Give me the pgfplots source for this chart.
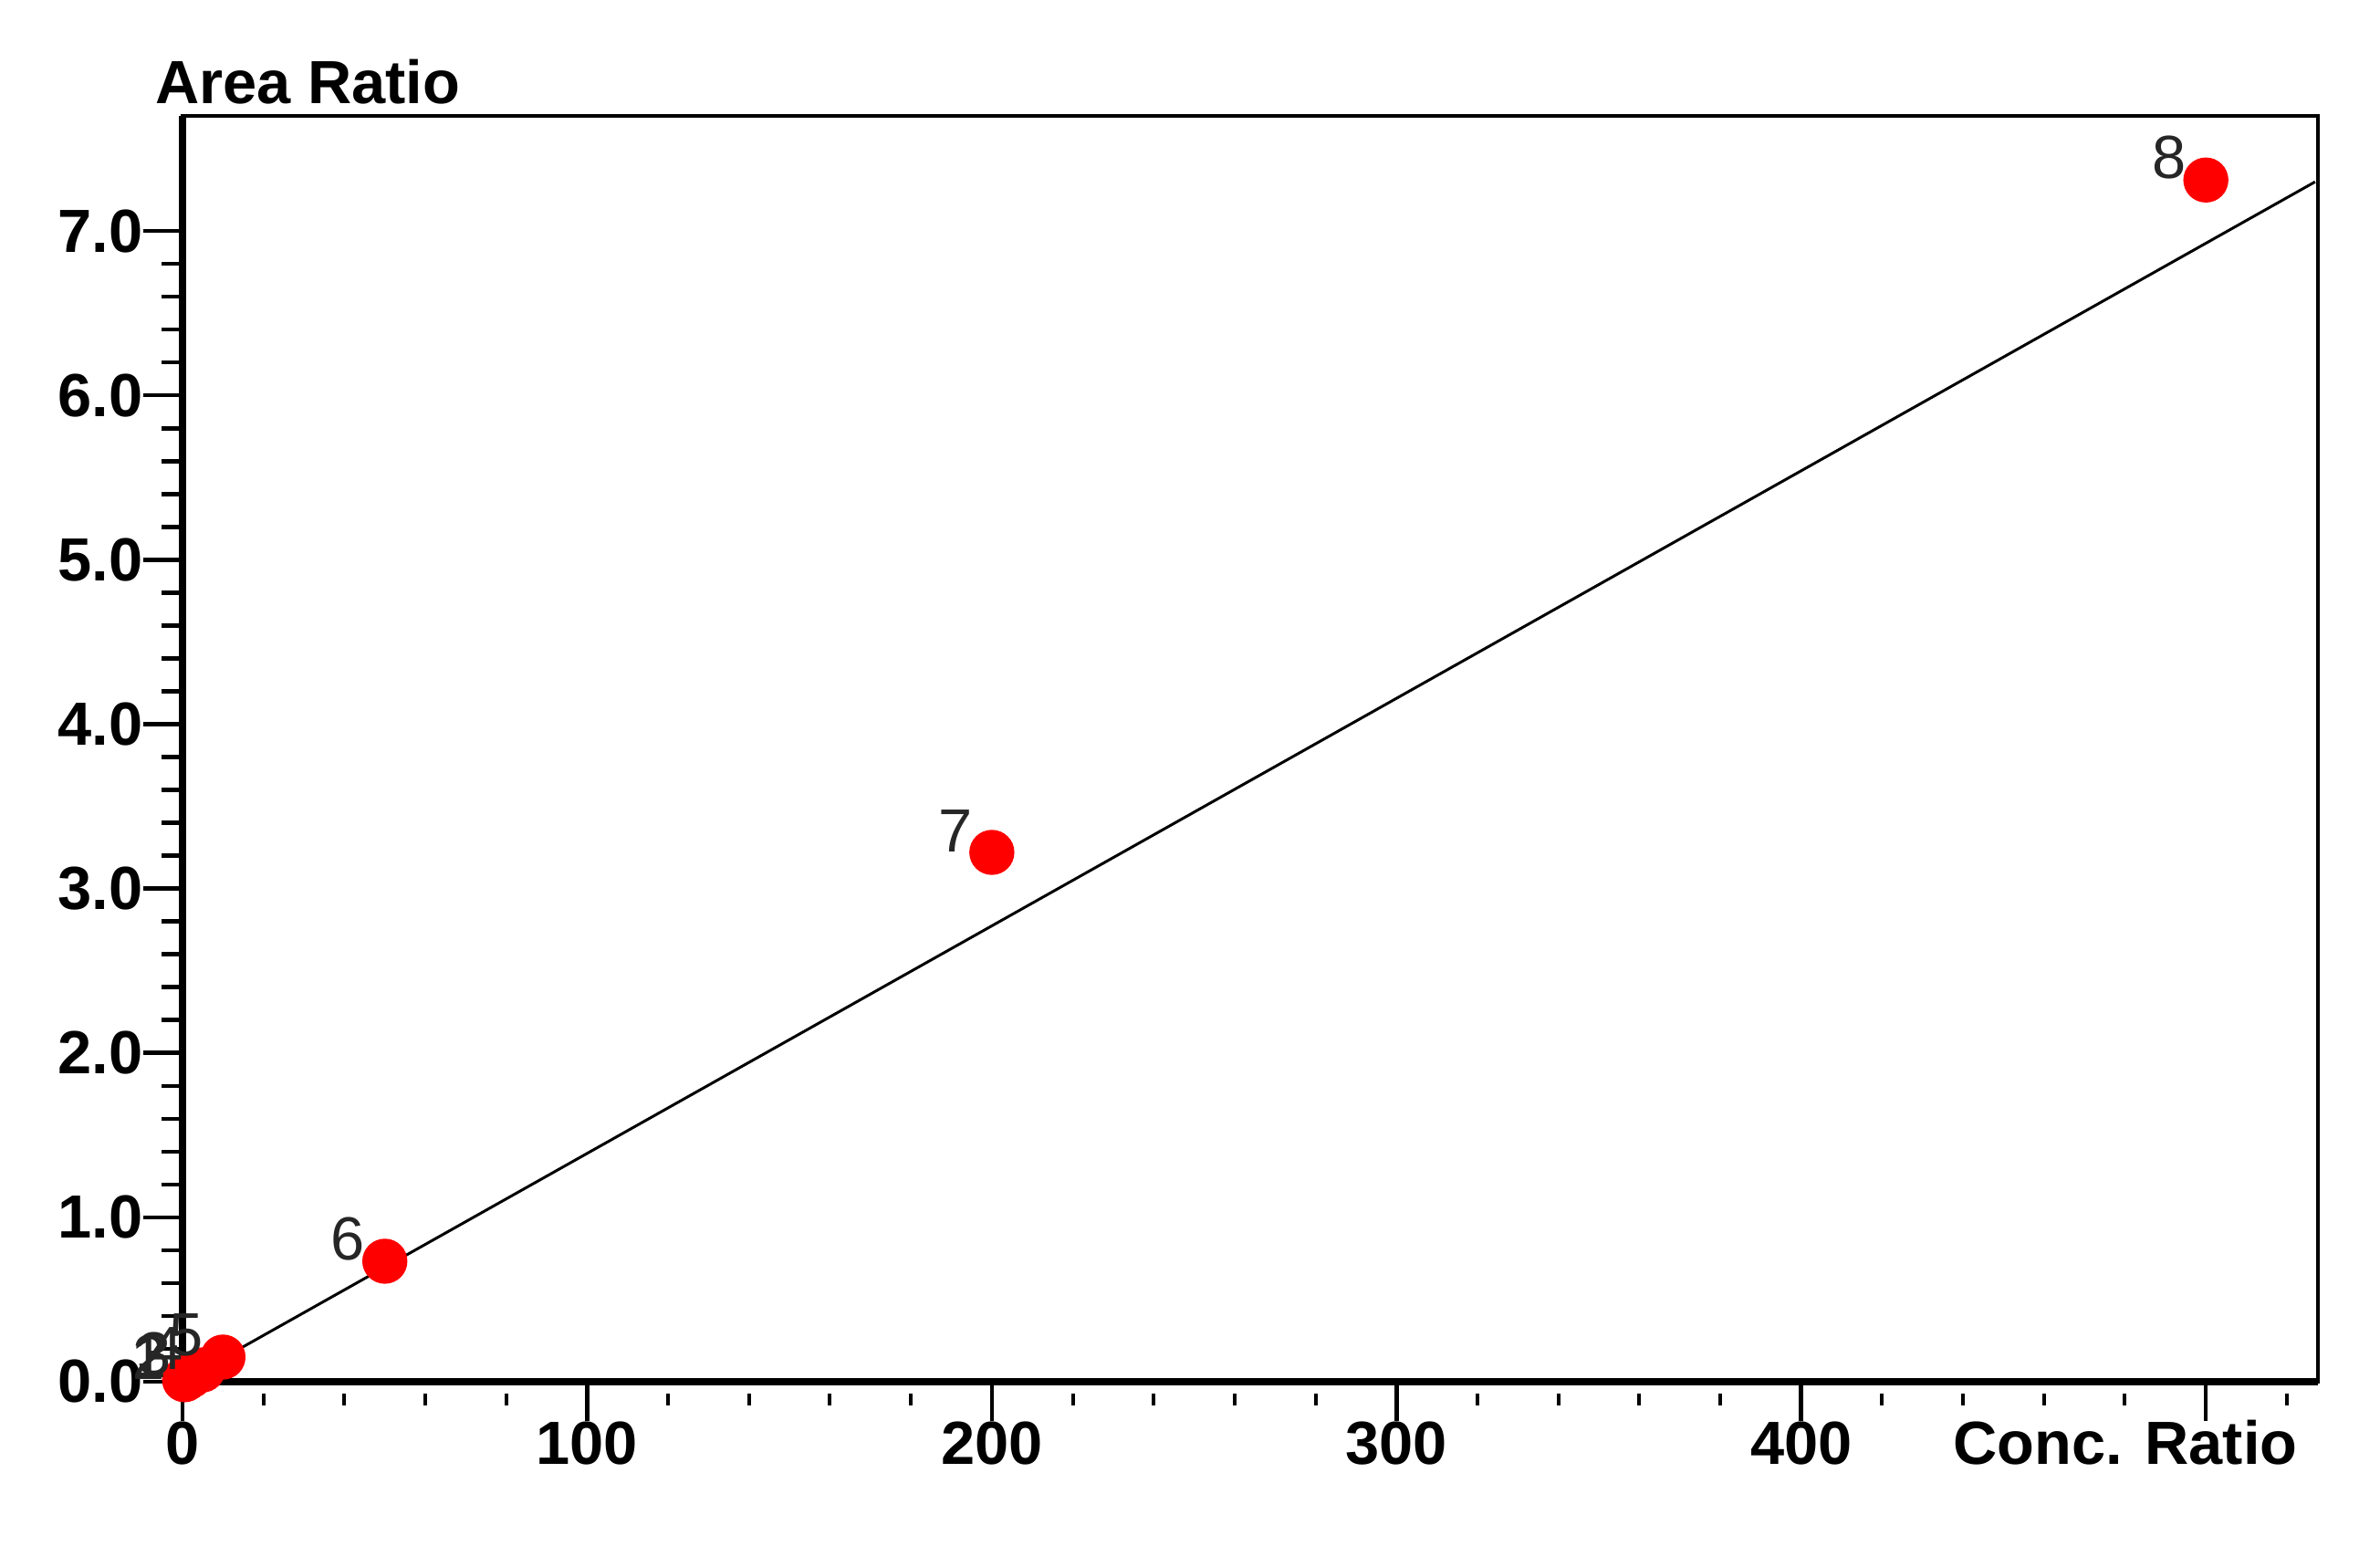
\documentclass[border=0pt]{standalone}
\usepackage{fontspec}
\setmainfont{Liberation Sans}
\usepackage{pgfplots}
\pgfplotsset{compat=1.18}
\newcommand\tfont{\fontsize{19}{22}\selectfont}
\pgfplotstableread{
conc area label
0.5 0.012 1
1 0.02 2
2 0.035 3
5 0.072 4
10 0.15 5
50 0.733 6
200 3.22 7
500 7.31 8
}\caldata
\begin{document}
\begin{tikzpicture}
\path[use as bounding box] (-20mm,-18mm) rectangle (240.8mm,151.4mm);
\begin{axis}[
  at={(0,0)}, anchor=south west,
  scale only axis, width=234mm, height=138.7mm,
  xmin=0, xmax=527.7, ymin=0, ymax=7.7,
  clip=false,
  tick pos=left, tick align=outside,
  xtick={0,100,200,300,400,500},
  xticklabels={0,100,200,300,400,{}},
  ytick={0,1,2,3,4,5,6,7},
  yticklabels={0.0,1.0,2.0,3.0,4.0,5.0,6.0,7.0},
  minor y tick num=4,
  major tick length=4.3mm,
  minor tick length=2.3mm,
  tick style={line width=0.45mm, black},
  extra x ticks={20,40,60,80,120,140,160,180,220,240,260,280,320,340,360,380,420,440,460,480,520},
  extra x tick labels={},
  extra x tick style={major tick length=1.3mm, tick style={yshift=-1.3mm, line width=0.4mm}},
  x tick label style={anchor=north, inner sep=0pt, font=\tfont\bfseries},
  y tick label style={anchor=east, inner sep=0pt, font=\tfont\bfseries},
  axis line style={line width=0.45mm},
  xlabel={Conc. Ratio}, ylabel={Area Ratio},
  every axis x label/.style={at={(rel axis cs:1,0)}, anchor=base east, xshift=-1.0mm, yshift=-9.1mm, font=\tfont\bfseries},
  every axis y label/.style={at={(rel axis cs:0,1)}, anchor=base west, xshift=-4.2mm, yshift=1.4mm, font=\tfont\bfseries},
]
\addplot[black, line width=0.3mm, no markers] coordinates {(0,0.005) (527,7.299)};
\addplot[only marks, mark=*, mark size=2.4mm, color=red, mark options={draw=none, fill=red},
  nodes near coords, point meta=explicit symbolic,
  nodes near coords style={anchor=south east, xshift=-2.1mm, yshift=0pt, inner sep=0pt, font=\tfont, text=black!85}]
  table[x=conc, y=area, meta=label] {\caldata};
\draw[line width=0.8mm] (rel axis cs:0,1) -- (rel axis cs:0,0) -- (rel axis cs:1,0);
\end{axis}
\end{tikzpicture}
\end{document}
